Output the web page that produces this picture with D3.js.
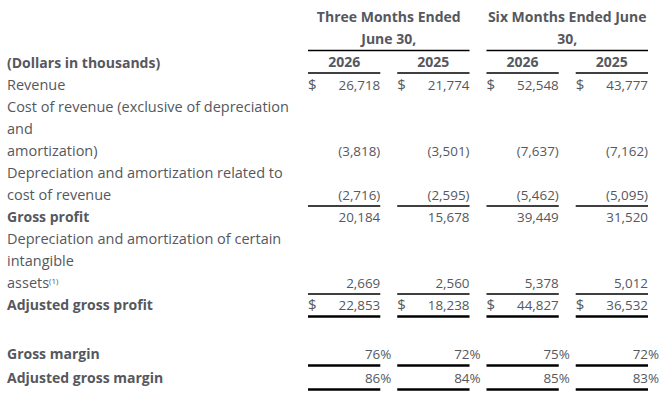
<!DOCTYPE html>
<html>
<head>
<meta charset="utf-8">
<script src="https://cdn.jsdelivr.net/npm/d3@7"></script>
<style>
  body { margin: 0; background: #fff; }
  svg { display: block; font-family: "Open Sans", Lato, sans-serif; }
  .txt { fill: #55585e; font-size: 14.5px; }
  .num { font-size: 13.4px; }
  .cur { font-size: 15px; }
  .bold { font-weight: 700; font-size: 14px; }
</style>
</head>
<body>
<svg id="chart" width="666" height="400"></svg>
<script>
// Gross profit reconciliation table (dollars in thousands)

const groupHeaders = [["Three Months Ended", "June 30,"], ["Six Months Ended June", "30,"]];
const columns = ["2026", "2025", "2026", "2025"];

const rowLabels = [
  ["Revenue"],
  ["Cost of revenue (exclusive of depreciation", "and", "amortization)"],
  ["Depreciation and amortization related to", "cost of revenue"],
  ["Gross profit"],
  ["Depreciation and amortization of certain", "intangible", "assets"],
  ["Adjusted gross profit"],
  [""],
  ["Gross margin"],
  ["Adjusted gross margin"]
];
const rowBold   = [false, false, false, true, false, true, false, true, true];
const rowDollar = [true, false, false, false, false, true, false, false, false];
const rowPct    = [false, false, false, false, false, false, false, true, true];
// border under each row: 0 none, 1 thin, 2 thick
const rowBorder = [0, 0, 1, 0, 1, 2, 0, 2, 2];
const rowFootnote = [null, null, null, null, "(1)", null, null, null, null];

const revenue      = [26718, 21774, 52548, 43777];
const costRevenue  = [-3818, -3501, -7637, -7162];
const daCost       = [-2716, -2595, -5462, -5095];
const grossProfit  = [20184, 15678, 39449, 31520];
const daIntangible = [2669, 2560, 5378, 5012];
const adjGross     = [22853, 18238, 44827, 36532];
const grossMargin  = [76, 72, 75, 72];
const adjMargin    = [86, 84, 85, 83];

const rowValues = [revenue, costRevenue, daCost, grossProfit, daIntangible, adjGross, null, grossMargin, adjMargin];

const svg = d3.select("#chart");
const lineH = 22;
const labelX = 7;

const x = d3.scaleBand().domain(d3.range(columns.length)).range([308, 648]).paddingInner(0.19);

const fmt = d3.format(",");
const fmtVal = v => v < 0 ? `(${fmt(-v)})` : fmt(v);

// ---- Header ----
const head = svg.append("g");
groupHeaders.forEach((lines, g) => {
  const x0 = x(g * 2), x1 = x(g * 2 + 1) + x.bandwidth();
  lines.forEach((t, i) => {
    head.append("text").attr("class", "txt bold")
      .attr("x", (x0 + x1) / 2).attr("y", 17 + i * lineH)
      .attr("dy", "0.35em").attr("text-anchor", "middle").text(t);
  });
  head.append("line").attr("x1", x0).attr("x2", x1).attr("y1", 50.5).attr("y2", 50.5)
    .attr("stroke", "#000").attr("stroke-width", 1.3);
});

head.append("text").attr("class", "txt bold").attr("x", labelX).attr("y", 63)
  .attr("dy", "0.35em").text("(Dollars in thousands)");

columns.forEach((c, i) => {
  head.append("text").attr("class", "txt bold")
    .attr("x", x(i) + x.bandwidth() / 2).attr("y", 62).attr("dy", "0.35em")
    .attr("text-anchor", "middle").text(c);
  head.append("line").attr("x1", x(i)).attr("x2", x(i) + x.bandwidth())
    .attr("y1", 73).attr("y2", 73).attr("stroke", "#000").attr("stroke-width", 1.3);
});

// ---- Body ----
const body = svg.append("g");
let y = 85;
rowLabels.forEach((lines, r) => {
  const last = y + (lines.length - 1) * lineH;
  lines.forEach((t, i) => {
    const tx = body.append("text").attr("class", "txt" + (rowBold[r] ? " bold" : ""))
      .attr("x", labelX).attr("y", y + i * lineH).attr("dy", "0.35em").text(t);
    if (i === lines.length - 1 && rowFootnote[r]) {
      tx.append("tspan").attr("dy", "-0.45em").attr("font-size", "8px").text(rowFootnote[r]);
    }
  });

  const vals = rowValues[r];
  if (vals) {
    vals.forEach((v, c) => {
      const right = x(c) + x.bandwidth();
      body.append("text").attr("class", "txt num")
        .attr("x", right).attr("y", last).attr("dy", "0.35em")
        .attr("text-anchor", "end").text(fmtVal(v));
      if (rowPct[r]) {
        body.append("text").attr("class", "txt num")
          .attr("x", right).attr("y", last).attr("dy", "0.35em").text("%");
      }
      if (rowDollar[r]) {
        body.append("text").attr("class", "txt cur")
          .attr("x", x(c)).attr("y", last).attr("dy", "0.35em").text("$");
      }
      if (rowBorder[r]) {
        const by = last + (rowBorder[r] === 2 ? 11.5 : 11);
        body.append("line").attr("x1", x(c)).attr("x2", right)
          .attr("y1", by).attr("y2", by).attr("stroke", "#000")
          .attr("stroke-width", rowBorder[r] === 2 ? 2.6 : 1.3);
      }
    });
  }
  y = last + (r === 6 ? 25 : lineH) + (rowBorder[r] === 2 ? 2 : 0);
});
</script>
</body>
</html>
